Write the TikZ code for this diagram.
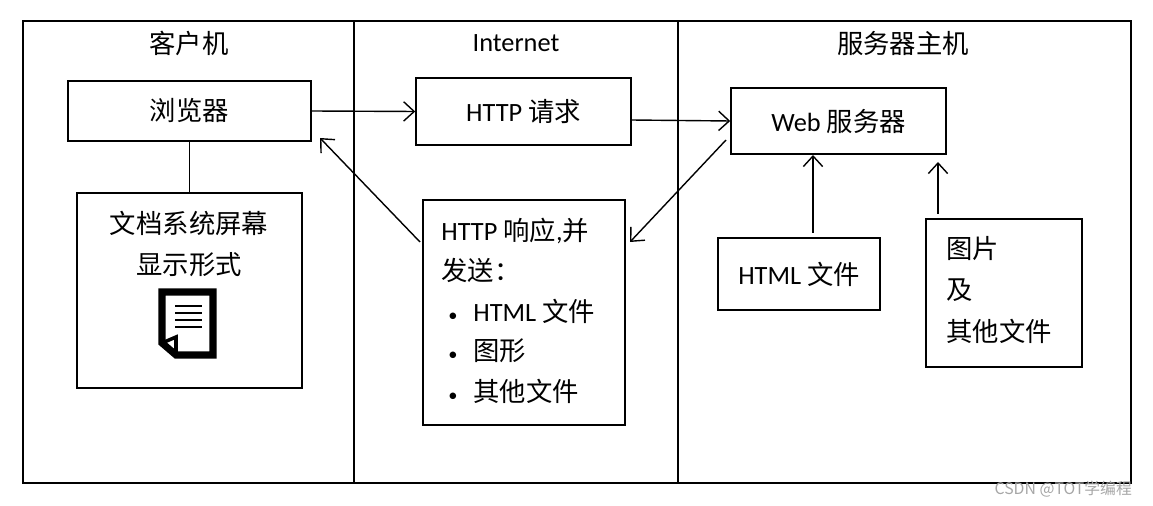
\documentclass[tikz,border=0pt]{standalone}
\usepackage{fontspec}
\setmainfont{Carlito}
\newfontfamily\cjk{Noto Sans CJK SC}
\newfontfamily\lat{Carlito}
\usetikzlibrary{arrows.meta}
\tikzset{
  box/.style={draw,line width=0.9pt,inner sep=0pt},
  txt/.style={font=\fontsize{15}{18}\selectfont\cjk,inner sep=0pt},
  arr/.style={-{Straight Barb[length=6pt,width=11pt]},line width=0.8pt}
}
\newcommand\itm{{\lat\scalebox{0.7}{•}}\hspace{9pt}}
\begin{document}
\begin{tikzpicture}[x=0.02cm,y=-0.02cm]
\useasboundingbox (0,0) rectangle (1153,506);
% frame and columns
\draw[line width=0.6pt] (23,21) rectangle (1131,483);
\draw[line width=0.6pt] (354,21) -- (354,483) (678,21) -- (678,483);
\node[txt] (hclient) at (189,43) {客户机};
\node[txt] (hnet) at (516,43) {\lat Internet};
\node[txt] (hserver) at (903,43) {服务器主机};
% boxes
\node[box,minimum width=4.86cm,minimum height=1.2cm] (browser) at (189.5,111) {};
\node[txt] at (browser) {浏览器};
\node[box,minimum width=4.5cm,minimum height=3.9cm] (doc) at (189.5,290.5) {};
\node[txt] (doct1) at (189,223) {文档系统屏幕};
\node[txt] (doct2) at (189,265) {显示形式};
\node[box,minimum width=4.3cm,minimum height=1.34cm] (req) at (523.5,111.5) {};
\node[txt] at (req) {{\lat HTTP} 请求};
\node[box,minimum width=4.3cm,minimum height=1.32cm] (web) at (838.5,121) {};
\node[txt] at (web) {{\lat Web} 服务器};
\node[box,minimum width=4.04cm,minimum height=4.5cm] (resp) at (524,312.5) {};
\node[txt,anchor=west] at (441,231) {{\lat HTTP} 响应{\lat,}并};
\node[txt,anchor=west] at (441,270) {发送：};
\node[txt,anchor=west] at (448,311) {\itm{\lat HTML} 文件};
\node[txt,anchor=west] at (448,351) {\itm 图形};
\node[txt,anchor=west] at (448,391) {\itm 其他文件};
\node[box,minimum width=3.24cm,minimum height=1.44cm] (html) at (799,274) {};
\node[txt] at (html) {{\lat HTML} 文件};
\node[box,minimum width=3.12cm,minimum height=2.96cm] (img) at (1004,293) {};
\node[txt,anchor=west] at (946,249) {图片};
\node[txt,anchor=west] at (946,290) {及};
\node[txt,anchor=west] at (946,331) {其他文件};
% document icon
\draw[line width=4pt,line join=miter] (176,355) -- (213,355) -- (213,292) -- (162,292) -- (162,343) -- cycle;
\draw[line width=2pt] (162,343) -- (176,337) -- (176,355);
\foreach \yy in {306,313,320,327}
  \draw[line width=1.6pt] (175,\yy) -- (202,\yy);
% connectors
\draw[line width=0.9pt] (browser.south) -- (doc.north);
\draw[arr] (browser.east) -- (req.west);
\draw[arr] (631,120) -- (web.west);
\draw[arr] (726,140) -- (630,242);
\draw[arr] (420,242) -- (320,138);
\draw[arr] (813,233) -- (813,155);
\draw[arr] (938,214) -- (938,162);
\node[font=\fontsize{9}{10}\selectfont\cjk,text=gray!70,anchor=east] (mark) at (1138,489) {CSDN @TOT学编程};
\end{tikzpicture}
\end{document}
